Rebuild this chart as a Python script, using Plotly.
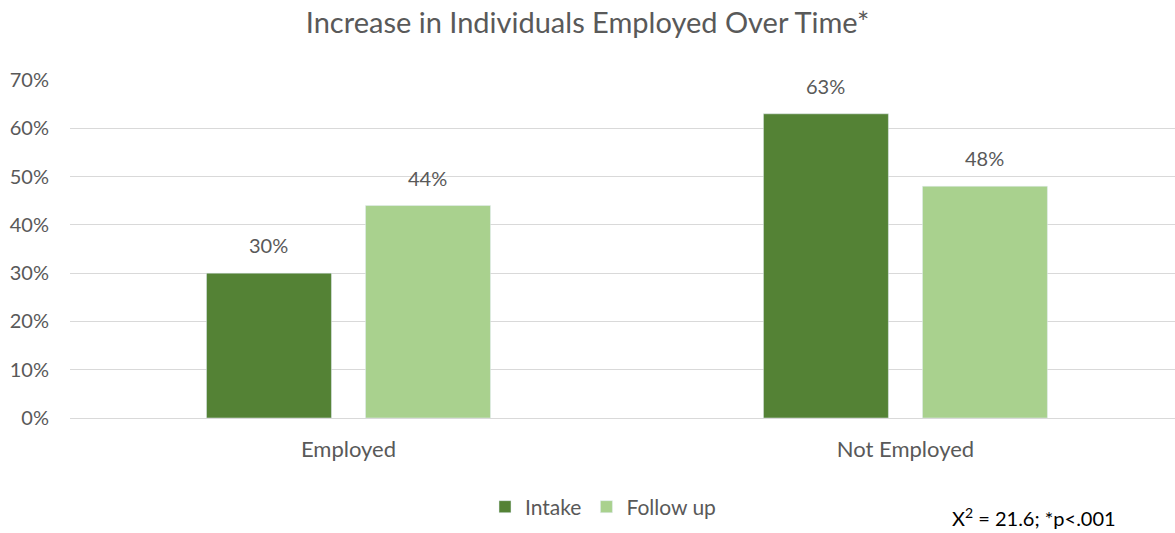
import plotly.graph_objects as go

categories = ["Employed", "Not Employed"]
intake = [0.30, 0.63]
follow_up = [0.44, 0.48]
series_names = ["Intake", "Follow up"]
colors = ["#548235", "#A9D18E"]
tick_vals = [0, 0.1, 0.2, 0.3, 0.4, 0.5, 0.6, 0.7]
tick_text = ["0%", "10%", "20%", "30%", "40%", "50%", "60%", "70%"]

FONT = "Lato, Open Sans, sans-serif"
GREY = "#595959"
BARGAP = 0.429
GROUPGAP = 0.214

fig = go.Figure()
series = [intake, follow_up]
for name, vals, col in zip(series_names, series, colors):
    fig.add_trace(go.Bar(
        x=categories, y=vals, name=name, marker_color=col,
    ))

# data labels above each bar, positioned at the group slot centres
nser = len(series)
slot = (1 - BARGAP) / nser
for j, vals in enumerate(series):
    for i, v in enumerate(vals):
        fig.add_annotation(
            x=i - (1 - BARGAP) / 2 + slot * (j + 0.5), y=v, xref="x", yref="y",
            text=f"{v:.0%}", showarrow=False, yanchor="middle", yshift=28,
            font=dict(size=20, color=GREY, family=FONT),
        )

fig.update_layout(
    width=1175, height=533,
    margin=dict(l=70, r=0, t=80, b=115, autoexpand=False),
    paper_bgcolor="white", plot_bgcolor="white",
    barmode="group", bargap=BARGAP, bargroupgap=GROUPGAP,
    title=dict(text="Increase in Individuals Employed Over Time*", x=0.5, xanchor="center",
               y=1 - 23 / 533, yanchor="middle",
               font=dict(size=29, color=GREY, family=FONT)),
    font=dict(family=FONT, color=GREY, size=20),
    legend=dict(orientation="h", xref="container", yref="container",
                x=603 / 1175, xanchor="center", y=1 - 507 / 533, yanchor="middle",
                font=dict(size=21, color=GREY, family=FONT), itemwidth=30,
                traceorder="normal"),
    showlegend=True,
)
fig.update_yaxes(range=[0, 0.7], tickvals=tick_vals, ticktext=tick_text,
                 showgrid=True, gridcolor="#D9D9D9", gridwidth=1,
                 zeroline=True, zerolinecolor="#D9D9D9", zerolinewidth=1,
                 tickfont=dict(size=20, color=GREY, family=FONT), ticks="", ticklabelstandoff=20)
fig.update_xaxes(showline=False, ticks="", tickfont=dict(size=22, color=GREY, family=FONT),
                 ticklabelstandoff=16, range=[-0.5, 1.484])
fig.add_annotation(text="X<sup>2</sup> = 21.6; *p<.001", xref="paper", yref="paper",
                   x=(1034 - 70) / 1105, y=-(517 - 418) / (418 - 80),
                   xanchor="center", yanchor="middle", showarrow=False,
                   font=dict(size=20, color="#000000", family=FONT))
fig.write_html("out.html")
